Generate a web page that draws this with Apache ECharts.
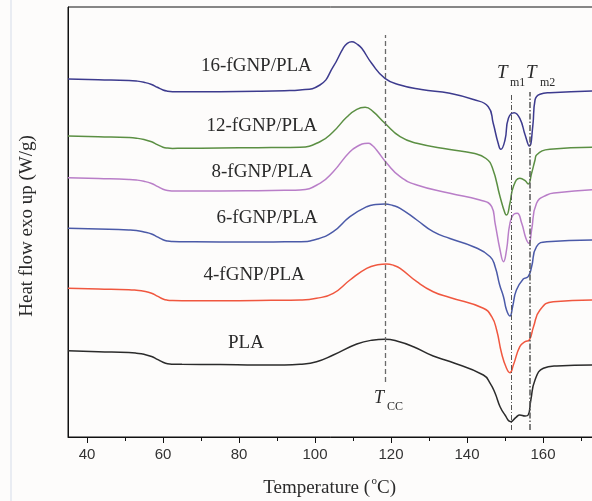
<!DOCTYPE html>
<html>
<head>
<meta charset="utf-8">
<script src="https://cdn.jsdelivr.net/npm/echarts@6/dist/echarts.min.js"></script>
<style>
html,body{margin:0;padding:0;background:#fdfcfb;}
#c{width:592px;height:501px;}
</style>
</head>
<body>
<div id="c"></div>
<script>
// Temperature (°C) tick labels
const majorTicks = [40, 60, 80, 100, 120, 140, 160];
const minorTicks = [50, 70, 90, 110, 130, 150, 170];

// Reference temperatures
const TCC = 118.6;
const TM1 = 151.7;
const TM2 = 156.4;

// Series names
const seriesNames = ['16-fGNP/PLA', '12-fGNP/PLA', '8-fGNP/PLA', '6-fGNP/PLA', '4-fGNP/PLA', 'PLA'];

// [temperature, heat flow (arbitrary offset units)]
const fGNP16 = [[35,35.8],[43,35.73],[51,35.66],[53,35.6],[55,35.47],[57,35.25],[58.5,34.97],[60,34.7],[61.2,34.58],[62.5,34.53],[65,34.52],[75,34.53],[85,34.57],[92,34.63],
 [96.05,34.7],[101.3,35.2],[104.8,37.03],[107.4,38.87],[108.5,39.37],[109.7,39.53],[111,39.3],[112.3,38.87],[114.9,37.37],[118.4,35.87],[122.4,35.2],[128,34.75],[135.5,34.37],
 [141.7,33.75],[145.6,33.03],[146.9,31.37],[148.2,29.37],[148.9,28.77],[150.0,29.7],[150.9,31.87],[152.4,32.43],[153.9,31.87],[155.3,30.2],[156.4,29.1],
 [157.3,31.03],[157.9,33.7],[159.2,34.27],[161.8,34.43],[175,34.63]];
const fGNP12 = [[35,30.1],[43,30.02],[51,29.94],[53,29.88],[55,29.75],[57,29.52],[58.5,29.24],[60,28.98],[61.2,28.89],[62.5,28.86],[65,28.87],[75,28.9],[85,28.93],[92,28.95],
 [96.05,28.97],[101.3,29.53],[104.8,30.53],[108.3,31.97],[111,32.77],[113.2,32.97],[115.3,32.53],[118.4,31.37],[122.4,30.03],[126.8,29.37],[135.5,28.75],
 [141.7,28.37],[145,27.85],[146.7,26.9],[148.7,24.03],[150.0,22.37],[150.4,22.2],[151.3,23.37],[152.2,25.03],[153.9,25.87],[155.3,25.63],[156.1,25.3],
 [157.0,26.37],[157.9,27.7],[158.3,28.2],[161.8,28.77],[175,28.97]];
const fGNP8 = [[35,25.93],[43,25.85],[51,25.76],[53,25.7],[55,25.57],[57,25.35],[58.5,25.07],[60,24.78],[61.2,24.65],[62.5,24.61],[65,24.6],[75,24.6],[85,24.63],[92,24.67],
 [96.05,24.7],[101.3,25.37],[104.8,26.53],[109.2,28.53],[111.8,29.2],[113,29.35],[114,29.37],[115.1,29.15],[116.2,28.7],[118.9,27.37],[122.4,26.03],[126.8,25.2],[135.5,24.37],
 [143.4,23.7],[146.5,23.03],[147.4,21.37],[148.7,18.7],[149.6,17.53],[150.4,18.7],[151.3,21.37],[152.4,22.3],[153.2,22.37],[154.4,21.37],[155.5,19.87],
 [156.3,19.37],[157.0,20.7],[158.3,23.37],[161,24.2],[163.6,24.43],[175,24.77]];
const fGNP6 = [[35,20.87],[43,20.8],[51,20.71],[53,20.65],[55,20.5],[57,20.3],[58.5,20.02],[60,19.73],[61.2,19.6],[62.5,19.55],[65,19.53],[75,19.5],[85,19.5],[92,19.52],
 [96.05,19.53],[100.4,19.77],[104.8,20.53],[109.2,22.03],[113.6,23.03],[116,23.25],[118.4,23.3],[120.5,23.15],[122.4,22.87],[126.8,21.7],[131.1,20.53],[135.5,19.85],
 [141.7,19.03],[146.1,18.03],[147.4,17.03],[148.6,15.2],[149.6,14.03],[150.4,12.7],[151.3,12.1],[152.0,13.03],[153.0,14.7],[154.8,15.8],[156.1,16.03],
 [157.0,17.03],[158.3,19.03],[161,19.53],[175,19.7]];
const fGNP4 = [[35,14.87],[43,14.8],[51,14.73],[53,14.67],[55,14.57],[57,14.37],[58.5,14.09],[60,13.8],[61.2,13.68],[62.5,13.64],[65,13.63],[75,13.63],[85,13.65],[92,13.68],
 [96.05,13.7],[100.4,13.87],[104.8,14.37],[109.2,15.7],[113.6,16.87],[116.5,17.22],[118.9,17.3],[120.8,17.15],[122.4,16.87],[126.8,15.53],[131.1,14.53],[135.5,13.95],
 [144.3,12.87],[146.5,12.03],[147.8,10.7],[149.1,8.37],[150.4,6.87],[151.3,6.43],[152.2,7.2],[153.9,9.03],[155.3,9.53],[156.4,9.7],
 [157.5,11.03],[159.2,12.7],[162.7,13.53],[175,13.7]];
const PLA = [[35,8.63],[43,8.53],[51,8.44],[53,8.38],[55,8.27],[57,8.05],[58.5,7.77],[60,7.48],[61.2,7.33],[62.5,7.28],[65,7.27],[75,7.25],[85,7.2],[92,7.2],
 [96.05,7.27],[100.4,7.53],[104.8,8.2],[111,9.3],[115,9.68],[118.4,9.77],[121.5,9.6],[125.9,9.03],[131.1,8.1],[135.5,7.55],
 [144.3,6.2],[146.1,5.37],[147.4,4.37],[148.7,3.03],[150,2.2],[151.5,1.53],[152.9,1.97],[153.9,2.2],[155.3,2.1],[156.1,2.2],
 [156.8,3.7],[157.9,5.7],[160.1,6.87],[163.6,7.1],[175,7.2]];

const seriesData = [fGNP16, fGNP12, fGNP8, fGNP6, fGNP4, PLA];
const colors = ['#3d3b8e', '#5b8f43', '#b97ec8', '#4b5aa8', '#f0573f', '#2b2b2b'];

const serif = '"Liberation Serif", "Times New Roman", serif';
const textColor = '#2a2a2a';

const chart = echarts.init(document.getElementById('c'), null, {renderer: 'canvas'});

const series = seriesData.map((d, i) => ({
  name: seriesNames[i],
  type: 'line',
  data: d,
  showSymbol: false,
  smooth: 0.5,
  lineStyle: {color: colors[i], width: 1.5},
  itemStyle: {color: colors[i]},
  silent: true
}));

series[5].markLine = {
  silent: true,
  symbol: ['none', 'none'],
  label: {show: false},
  animation: false,
  data: [
    [{coord: [TCC, 5.5], lineStyle: {type: [5, 3], color: '#6a6a6a', width: 1.3}}, {coord: [TCC, 40.2]}],
    [{coord: [TM1, 0.7], lineStyle: {type: [5, 2, 1, 2], color: '#555', width: 1}}, {coord: [TM1, 34.4]}],
    [{coord: [TM2, 0.7], lineStyle: {type: [6, 2, 1.5, 2], color: '#555', width: 1.5}}, {coord: [TM2, 34.5]}]
  ]
};

function txt(x, y, text, size, opts) {
  return Object.assign({
    type: 'text', x: x, y: y, silent: true,
    style: Object.assign({
      text: text,
      font: size + 'px ' + serif,
      fill: textColor,
      align: 'left',
      verticalAlign: 'middle'
    }, (opts && opts.style) || {})
  }, (opts && opts.el) || {});
}

const graphics = [
  {type: 'line', shape: {x1: 11, y1: 0, x2: 11, y2: 501}, style: {stroke: '#e2e7ef', lineWidth: 1.5}, silent: true},
  txt(201, 66, seriesNames[0], 19),
  txt(206.5, 126.5, seriesNames[1], 19),
  txt(211.5, 172, seriesNames[2], 19),
  txt(216.5, 218, seriesNames[3], 19),
  txt(203.5, 275, seriesNames[4], 19),
  txt(228, 343, seriesNames[5], 19),
  // T_m1, T_m2
  txt(497, 73, 'T', 19, {style: {font: 'italic 19px ' + serif}}),
  txt(510, 83, 'm1', 12),
  txt(526, 73, 'T', 19, {style: {font: 'italic 19px ' + serif}}),
  txt(540, 83, 'm2', 12),
  // T_CC
  txt(374, 398, 'T', 18, {style: {font: 'italic 18px ' + serif}}),
  txt(387, 407, 'CC', 12),
  // x-axis title
  txt(370, 488, 'Temperature (', 19, {style: {align: 'right'}}),
  txt(371.5, 481, 'o', 11),
  txt(377, 488, 'C)', 19),
  // y-axis title
  {type: 'text', x: 27, y: 226, rotation: Math.PI / 2, silent: true,
   style: {text: 'Heat flow exo up (W/g)', font: '19px ' + serif, fill: textColor, align: 'center', verticalAlign: 'middle'}}
];

chart.setOption({
  animation: false,
  backgroundColor: '#fdfcfb',
  grid: {left: 68, top: 7, width: 532, height: 430, containLabel: false, outerBoundsMode: 'none',
         show: true, borderColor: '#111', borderWidth: 1, backgroundColor: 'transparent'},
  xAxis: [{
    type: 'value', min: 35, max: 175,
    axisLine: {show: true, lineStyle: {color: '#111', width: 1}},
    axisTick: {show: true, length: 6, inside: false, customValues: majorTicks, lineStyle: {color: '#111'}},
    axisLabel: {show: true, customValues: majorTicks, fontSize: 15, fontFamily: '"Liberation Sans", Arial, sans-serif', color: '#333', margin: 10},
    splitLine: {show: false}
  }, {
    type: 'value', min: 35, max: 175, position: 'bottom', gridIndex: 0,
    axisLine: {show: false},
    axisTick: {show: true, length: 4, customValues: minorTicks, lineStyle: {color: '#111'}},
    axisLabel: {show: false},
    splitLine: {show: false}
  }],
  yAxis: {
    type: 'value', min: 0, max: 43,
    axisLine: {show: true, lineStyle: {color: '#111', width: 1}},
    axisTick: {show: false}, axisLabel: {show: false}, splitLine: {show: false}
  },
  series: series,
  graphic: graphics
});
</script>
</body>
</html>
